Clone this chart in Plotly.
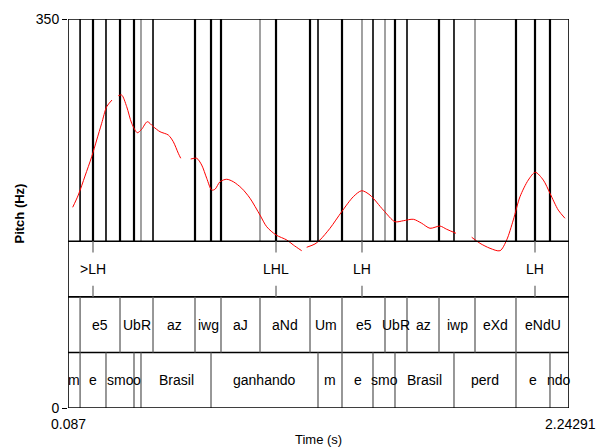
import plotly.graph_objects as go

# ---------------- data ----------------
t_start, t_end = 0.087, 2.24291
y_tick_vals = [0, 350]
x_tick_vals = [0.087, 2.24291]
x_tick_text = ["0.087", "2.24291"]

# pitch contour (s, Hz), one list per voiced stretch
seg1_t = [0.1072, 0.1313, 0.1602, 0.1890, 0.2105, 0.2320, 0.2535, 0.2763]
seg1_f = [180.6, 191.6, 208.7, 226.1, 241.1, 256.2, 271.1, 277.1]
seg2_t = [0.3035, 0.3181, 0.3396, 0.3611, 0.3852, 0.4041, 0.4282, 0.4541, 0.4829, 0.5186, 0.5401, 0.5616, 0.5720]
seg2_f = [281.0, 281.6, 271.1, 256.2, 247.7, 250.8, 257.6, 253.1, 248.6, 245.6, 239.6, 229.2, 224.7]
seg3_t = [0.6150, 0.6408, 0.6623, 0.6839, 0.7054, 0.7196, 0.7411, 0.7699, 0.7983, 0.8345, 0.8702, 0.9132,
          0.9420, 0.9821, 1.0281, 1.0565, 1.0926]
seg3_f = [224.0, 224.7, 218.6, 206.7, 196.1, 196.8, 203.6, 205.8, 203.6, 197.7, 188.7, 173.6,
          163.1, 155.7, 151.2, 146.7, 141.5]
seg4_t = [1.1141, 1.1499, 1.1714, 1.2144, 1.2648, 1.3147, 1.3508, 1.3866, 1.4438, 1.4941, 1.5299, 1.5729,
          1.6091, 1.6448, 1.6878, 1.7166, 1.7566]
seg4_f = [144.6, 147.6, 151.2, 161.7, 176.6, 190.1, 195.5, 191.6, 178.1, 167.6, 168.5, 169.8,
          166.2, 161.7, 163.7, 160.8, 157.2]
seg5_t = [1.8242, 1.8599, 1.9029, 1.9460, 1.9748, 2.0032, 2.0320, 2.0677, 2.0978, 2.1323, 2.1610, 2.1967, 2.2256]
seg5_f = [153.6, 148.2, 143.7, 141.5, 151.2, 169.2, 190.1, 205.1, 212.1, 205.1, 193.2, 178.1, 170.7]

# tier 1: tones (point tier)
tone_times = [0.1946, 0.9821, 1.3521, 2.0966]
tone_labels = [">LH", "LHL", "LH", "LH"]

# tier 2: syllables
syl_bounds = [0.1390, 0.3108, 0.4528, 0.6335, 0.7454, 0.9132, 1.1284, 1.2661, 1.4511,
              1.5458, 1.6835, 1.8384, 2.0148]
syl_labels = ["", "e5", "UbR", "az", "iwg", "aJ", "aNd", "Um", "e5", "UbR", "az", "iwp", "eXd", "eNdU"]

# tier 3: words
word_bounds = [0.1390, 0.2505, 0.3710, 0.4011, 0.7024, 1.1628, 1.2661, 1.3995, 1.4941,
               1.7480, 2.0148, 2.1611]
word_labels = ["m", "e", "smo", "o", "Brasil", "ganhando", "m", "e", "smo", "Brasil", "perd", "e", "ndo"]

# ---------------- layout constants ----------------
PITCH_LO, PITCH_HI = 150, 350
T1_LO, T1_HI = 100, 150
T2_LO, T2_HI = 50, 100
T3_LO, T3_HI = 0, 50
FONT = "Liberation Sans, Arial, sans-serif"

fig = go.Figure()

# pitch contour
xs, ys = [], []
for st, sf in [(seg1_t, seg1_f), (seg2_t, seg2_f), (seg3_t, seg3_f), (seg4_t, seg4_f), (seg5_t, seg5_f)]:
    xs += st + [None]
    ys += sf + [None]
fig.add_trace(go.Scatter(x=xs, y=ys, mode="lines", line=dict(color="#ff0000", width=1, shape="spline", smoothing=0.8),
                         connectgaps=False, hoverinfo="skip", showlegend=False))

shapes = []

# vertical lines through pitch area (all tier marks)
all_marks = sorted(set([round(v, 4) for v in tone_times + syl_bounds + word_bounds]))
# style per mark, in sorted order: 'k' thick black, 'm' medium black, 'g' gray
mark_style = ["m", "k", "m", "k", "k", "g", "m", "k", "k", "k", "g", "k", "k", "m", "k",
              "g", "m", "g", "k", "m", "k", "m", "g", "k", "k", "k"]
style_map = {"k": ("#000000", 2.2), "m": ("#000000", 1.6), "g": ("#8a8a8a", 1.6)}
for i, t in enumerate(all_marks):
    st = mark_style[i] if i < len(mark_style) else "m"
    c, w = style_map[st]
    shapes.append(dict(type="line", xref="x", yref="y", x0=t, x1=t, y0=PITCH_LO, y1=PITCH_HI,
                       line=dict(color=c, width=w), layer="below"))

# tier separators
for yv in [T1_LO, T2_LO, PITCH_LO]:
    shapes.append(dict(type="line", xref="x", yref="y", x0=t_start, x1=t_end, y0=yv, y1=yv,
                       line=dict(color="#000000", width=1.6)))

# tier 1 point ticks
for t in tone_times:
    shapes.append(dict(type="line", xref="x", yref="y", x0=t, x1=t, y0=T1_HI, y1=T1_HI - 10,
                       line=dict(color="#7a7a7a", width=1.4)))
    shapes.append(dict(type="line", xref="x", yref="y", x0=t, x1=t, y0=T1_LO, y1=T1_LO + 10,
                       line=dict(color="#7a7a7a", width=1.4)))

# tier 2 and 3 boundaries
for t in syl_bounds:
    shapes.append(dict(type="line", xref="x", yref="y", x0=t, x1=t, y0=T2_LO, y1=T2_HI,
                       line=dict(color="#606060", width=1.3)))
for t in word_bounds:
    shapes.append(dict(type="line", xref="x", yref="y", x0=t, x1=t, y0=T3_LO, y1=T3_HI,
                       line=dict(color="#606060", width=1.3)))

# frame
shapes.append(dict(type="rect", xref="x", yref="y", x0=t_start, x1=t_end, y0=0, y1=350,
                   line=dict(color="#000000", width=1.6)))

annotations = []
lab_font = dict(family=FONT, size=14, color="#000000")

for t, lab in zip(tone_times, tone_labels):
    annotations.append(dict(x=t, y=(T1_LO + T1_HI) / 2, xref="x", yref="y", text=lab, showarrow=False,
                            font=lab_font, xanchor="center", yanchor="middle"))

def interval_labels(bounds, labels, ylo, yhi):
    edges = [t_start] + bounds + [t_end]
    for i, lab in enumerate(labels):
        if lab:
            annotations.append(dict(x=(edges[i] + edges[i + 1]) / 2, y=(ylo + yhi) / 2, xref="x", yref="y",
                                    text=lab, showarrow=False, font=lab_font,
                                    xanchor="center", yanchor="middle"))

interval_labels(syl_bounds, syl_labels, T2_LO, T2_HI)
interval_labels(word_bounds, word_labels, T3_LO, T3_HI)

# x tick labels
annotations.append(dict(x=x_tick_vals[0], y=0, xref="x", yref="y", text=x_tick_text[0], showarrow=False,
                        font=lab_font, xanchor="center", yanchor="top", yshift=-6))
annotations.append(dict(x=x_tick_vals[1], y=0, xref="x", yref="y", text=x_tick_text[1], showarrow=False,
                        font=lab_font, xanchor="right", yanchor="top", yshift=-6, xshift=29))

# axis titles
annotations.append(dict(x=(t_start + t_end) / 2, y=0, xref="x", yref="y", text="Time (s)", showarrow=False,
                        font=dict(family=FONT, size=13, color="#000000"), xanchor="center", yanchor="top", yshift=-22))
annotations.append(dict(x=0, y=175, xref="paper", yref="y", text="<b>Pitch (Hz)</b>", showarrow=False,
                        textangle=-90, font=dict(family=FONT, size=13, color="#000000"),
                        xanchor="center", yanchor="middle", xshift=-49))

fig.update_layout(
    width=598, height=447,
    margin=dict(l=68, r=29, t=19, b=39),
    paper_bgcolor="white", plot_bgcolor="white",
    shapes=shapes, annotations=annotations,
    xaxis=dict(range=[t_start, t_end], showgrid=False, zeroline=False, showticklabels=False,
               ticks="", showline=False),
    yaxis=dict(range=[0, 350], showgrid=False, zeroline=False, tickvals=y_tick_vals,
               ticktext=[str(v) for v in y_tick_vals], ticks="outside", ticklen=5, tickcolor="#000000",
               tickwidth=1.2, showline=False, tickfont=dict(family=FONT, size=14, color="#000000")),
    showlegend=False,
)

fig.write_html("out.html")
